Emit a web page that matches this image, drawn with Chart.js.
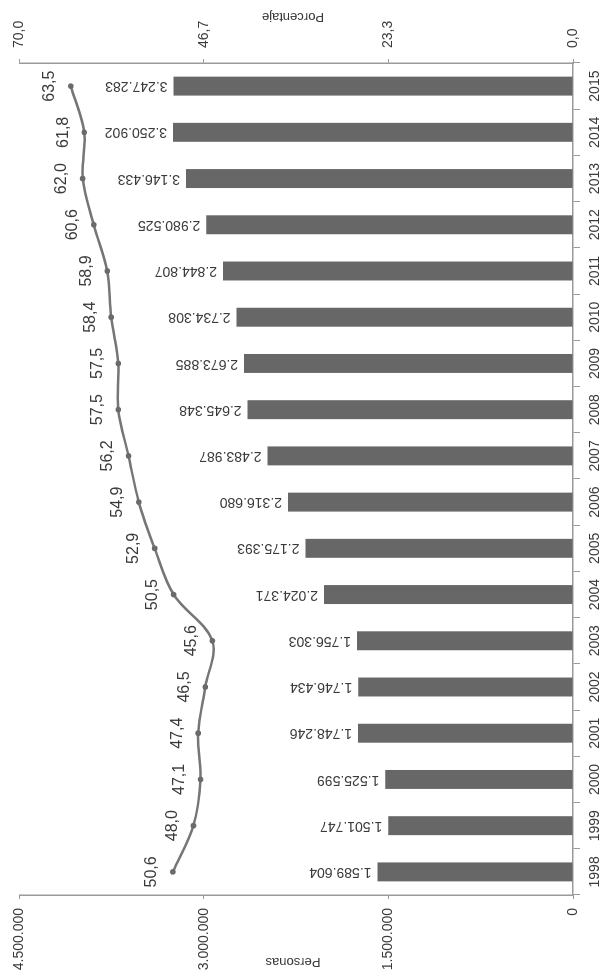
<!DOCTYPE html>
<html>
<head>
<meta charset="utf-8">
<script src="https://cdn.jsdelivr.net/npm/chart.js@4.4.1/dist/chart.umd.min.js"></script>
<style>
    html, body { margin: 0; padding: 0; background: #fff; overflow: hidden; }
    #wrap {
        position: absolute; left: 0; top: 0;
        width: 972px; height: 603px;
        transform-origin: 0 0;
        transform: translate(0, 972px) rotate(-90deg);
    }
</style>
</head>
<body>
<div id="wrap"><canvas id="chart" width="972" height="603"></canvas></div>
<script>
const years = ['1998', '1999', '2000', '2001', '2002', '2003', '2004', '2005', '2006',
    '2007', '2008', '2009', '2010', '2011', '2012', '2013', '2014', '2015'];
const personas = [1589604, 1501747, 1525599, 1748246, 1746434, 1756303, 2024371, 2175393, 2316680,
    2483987, 2645348, 2673885, 2734308, 2844807, 2980525, 3146433, 3250902, 3247283];
const porcentaje = [50.6, 48.0, 47.1, 47.4, 46.5, 45.6, 50.5, 52.9, 54.9,
    56.2, 57.5, 57.5, 58.4, 58.9, 60.6, 62.0, 61.8, 63.5];
const personasMax = 4500000;
const porcentajeMax = 70;

const fontFamily = "'Liberation Sans', Arial, sans-serif";
const textColor = '#3a3a3a';
const axisColor = '#9a9a9a';

const fmtPersonas = v => Math.round(v).toLocaleString('de-DE');
const fmtPct = v => v.toFixed(1).replace('.', ',');

// value labels + axis titles, drawn in the unrotated chart
const labelsPlugin = {
    id: 'labels',
    afterDatasetsDraw(chart) {
        const ctx = chart.ctx;
        ctx.save();
        ctx.fillStyle = textColor;

        // bar values, rotated like a y title
        ctx.font = '14px ' + fontFamily;
        ctx.textAlign = 'left';
        ctx.textBaseline = 'middle';
        chart.getDatasetMeta(0).data.forEach((bar, i) => {
            ctx.save();
            ctx.translate(bar.x, bar.y - 6);
            ctx.rotate(-Math.PI / 2);
            ctx.fillText(fmtPersonas(personas[i]), 0, 0);
            ctx.restore();
        });

        // percentage values above the points
        ctx.font = '16px ' + fontFamily;
        ctx.textAlign = 'center';
        chart.getDatasetMeta(1).data.forEach((pt, i) => {
            ctx.fillText(fmtPct(porcentaje[i]), pt.x, pt.y - 21);
        });

        // axis titles
        ctx.font = '13px ' + fontFamily;
        [['Personas', 10], ['Porcentaje', 955]].forEach(([t, x]) => {
            ctx.save();
            ctx.translate(x, 293);
            ctx.rotate(-Math.PI / 2);
            ctx.fillText(t, 0, 0);
            ctx.restore();
        });
        ctx.restore();
    }
};

new Chart(document.getElementById('chart'), {
    data: {
        labels: years,
        datasets: [{
            type: 'bar',
            label: 'Personas',
            data: personas,
            yAxisID: 'y',
            backgroundColor: '#676767',
            barPercentage: 0.41,
            categoryPercentage: 1,
            order: 1
        }, {
            type: 'line',
            label: 'Porcentaje',
            data: porcentaje,
            yAxisID: 'y1',
            borderColor: '#767676',
            backgroundColor: '#767676',
            borderWidth: 2.5,
            pointRadius: 2.8,
            pointBackgroundColor: '#6a6a6a',
            pointBorderWidth: 0,
            tension: 0.35,
            order: 0
        }]
    },
    options: {
        responsive: false,
        devicePixelRatio: 1,
        animation: false,
        layout: { padding: { top: 13, left: 0, right: 0, bottom: 0 } },
        plugins: {
            legend: { display: false },
            tooltip: { enabled: false }
        },
        scales: {
            x: {
                position: 'bottom',
                offset: true,
                grid: { offset: true, drawOnChartArea: false, drawTicks: true, tickLength: 7, color: axisColor },
                border: { color: axisColor, width: 1.5 },
                ticks: { color: textColor, font: { family: fontFamily, size: 14 }, padding: 7, maxRotation: 0, autoSkip: false },
                afterFit(scale) { scale.height = 30; }
            },
            y: {
                position: 'left',
                min: 0,
                max: personasMax,
                grid: { drawOnChartArea: false, drawTicks: true, tickLength: 4, color: axisColor },
                border: { color: axisColor, width: 1.5 },
                ticks: { count: 4, color: textColor, font: { family: fontFamily, size: 14 }, padding: 9, callback: v => fmtPersonas(v) },
                afterFit(scale) { scale.width = 77; }
            },
            y1: {
                position: 'right',
                min: 0,
                max: porcentajeMax,
                grid: { drawOnChartArea: false, drawTicks: true, tickLength: 4, color: axisColor },
                border: { color: axisColor, width: 1.5 },
                ticks: { count: 4, color: textColor, font: { family: fontFamily, size: 14 }, padding: 11, callback: v => fmtPct(v) },
                afterFit(scale) { scale.width = 63; }
            }
        }
    },
    plugins: [labelsPlugin]
});
</script>
</body>
</html>
